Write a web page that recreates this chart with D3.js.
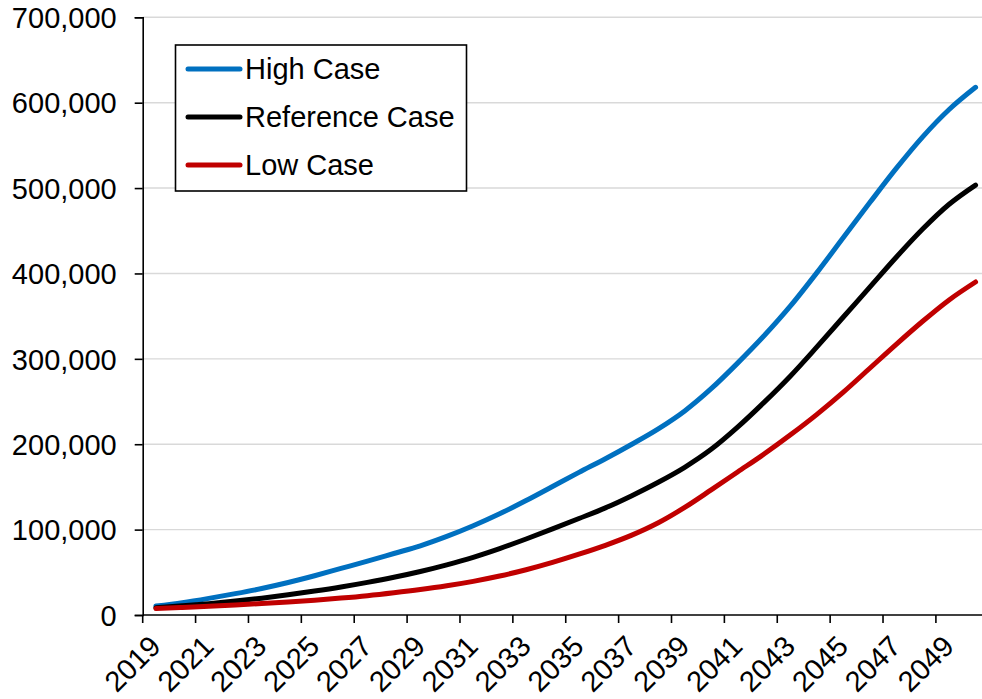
<!DOCTYPE html>
<html>
<head>
<meta charset="utf-8">
<script src="https://cdn.jsdelivr.net/npm/d3@7"></script>
<style>
  html, body { margin: 0; padding: 0; background: #fff; }
  svg { display: block; }
  text { font-family: "Liberation Sans", Arial, sans-serif; fill: #000; }
</style>
</head>
<body>
<svg id="chart" width="982" height="699"></svg>
<script>
// ---- Data ----
const years = d3.range(2019, 2051);
const highCase = [10500, 14500, 19500, 25000, 31000, 38000, 46000, 54500, 63000, 72000, 81000, 92000,
  104500, 118500, 134000, 150500, 167000, 183000, 200000, 218000, 239000, 265000, 295000, 327000,
  362000, 401000, 442000, 483000, 523000, 560000, 592000, 618000];
const referenceCase = [8500, 10800, 13300, 16300, 19700, 23600, 28000, 32800, 38200, 44200, 51000, 58800,
  67600, 77800, 89000, 100800, 113000, 125500, 139800, 155500, 173000, 194000, 220000, 249000,
  280000, 314000, 349000, 384000, 419000, 452000, 481000, 503500];
const lowCase = [7500, 8800, 10200, 11700, 13400, 15300, 17400, 19800, 22600, 26000, 29800, 34200,
  39400, 45600, 53000, 61600, 71200, 81600, 93500, 108000, 126000, 146500, 167500, 188500,
  211000, 235000, 261000, 289000, 317000, 344000, 369000, 390000];
const seriesNames = ["High Case", "Reference Case", "Low Case"];
const seriesColors = ["#0070C0", "#000000", "#C00000"];
const yTicks = [0, 100000, 200000, 300000, 400000, 500000, 600000, 700000];
const xLabelYears = d3.range(2019, 2051, 2);

// ---- Layout ----
const svg = d3.select("#chart");
const plotLeft = 142.7, plotTop = 17.3, plotBottom = 615, catW = 26.44;
const FS = 29;

const x = d3.scaleBand().domain(years).range([plotLeft, plotLeft + catW * years.length]).padding(0);
const y = d3.scaleLinear().domain([0, 700000]).range([plotBottom, plotTop]);
const cx = d => x(d) + x.bandwidth() / 2;

// gridlines
svg.append("g").selectAll("line").data(yTicks.filter(d => d > 0)).join("line")
  .attr("x1", plotLeft).attr("x2", 982)
  .attr("y1", d => y(d)).attr("y2", d => y(d))
  .attr("stroke", "#d9d9d9").attr("stroke-width", 1.4);

// y axis
const yAxis = svg.append("g").attr("transform", `translate(${plotLeft},0)`)
  .call(d3.axisLeft(y).tickValues(yTicks).tickFormat(d3.format(",")).tickSize(8).tickPadding(18));
yAxis.select(".domain").attr("stroke", "#000").attr("stroke-width", 1.6);
yAxis.selectAll(".tick line").attr("stroke", "#000").attr("stroke-width", 1.6);
yAxis.selectAll(".tick text").attr("font-size", FS).attr("dy", "0.355em")
  .style("font-family", '"Liberation Sans", Arial, sans-serif').attr("fill", "#000");

// x axis line
svg.append("line").attr("x1", plotLeft).attr("x2", 982).attr("y1", plotBottom).attr("y2", plotBottom)
  .attr("stroke", "#000").attr("stroke-width", 1.6);
// x ticks (between categories, every 2)
svg.append("g").selectAll("line").data(xLabelYears).join("line")
  .attr("x1", d => x(d)).attr("x2", d => x(d))
  .attr("y1", plotBottom).attr("y2", plotBottom + 8)
  .attr("stroke", "#000").attr("stroke-width", 1.6);
// x labels
svg.append("g").selectAll("text").data(xLabelYears).join("text")
  .attr("transform", d => `translate(${cx(d) + 6.5},648) rotate(-45)`)
  .attr("text-anchor", "end").attr("font-size", FS)
  .text(d => d);

// lines
const allSeries = [highCase, referenceCase, lowCase];
const lineGen = d3.line().x((d, i) => cx(years[i])).y(d => y(d)).curve(d3.curveMonotoneX);
svg.append("g").selectAll("path").data(allSeries).join("path")
  .attr("d", d => lineGen(d))
  .attr("fill", "none")
  .attr("stroke", (d, i) => seriesColors[i])
  .attr("stroke-width", 5)
  .attr("stroke-linecap", "round")
  .attr("stroke-linejoin", "round");

// legend
const lg = svg.append("g");
lg.append("rect").attr("x", 175.5).attr("y", 45).attr("width", 291).attr("height", 146)
  .attr("fill", "#fff").attr("stroke", "#000").attr("stroke-width", 1.6);
const entries = lg.selectAll("g.e").data(seriesNames).join("g").attr("class", "e")
  .attr("transform", (d, i) => `translate(0,${69 + i * 48})`);
entries.append("line").attr("x1", 188).attr("x2", 240).attr("y1", 0).attr("y2", 0)
  .attr("stroke", (d, i) => seriesColors[i]).attr("stroke-width", 5).attr("stroke-linecap", "round");
entries.append("text").attr("x", 245).attr("y", 0).attr("dy", "0.355em")
  .attr("font-size", FS).text(d => d);
</script>
</body>
</html>
